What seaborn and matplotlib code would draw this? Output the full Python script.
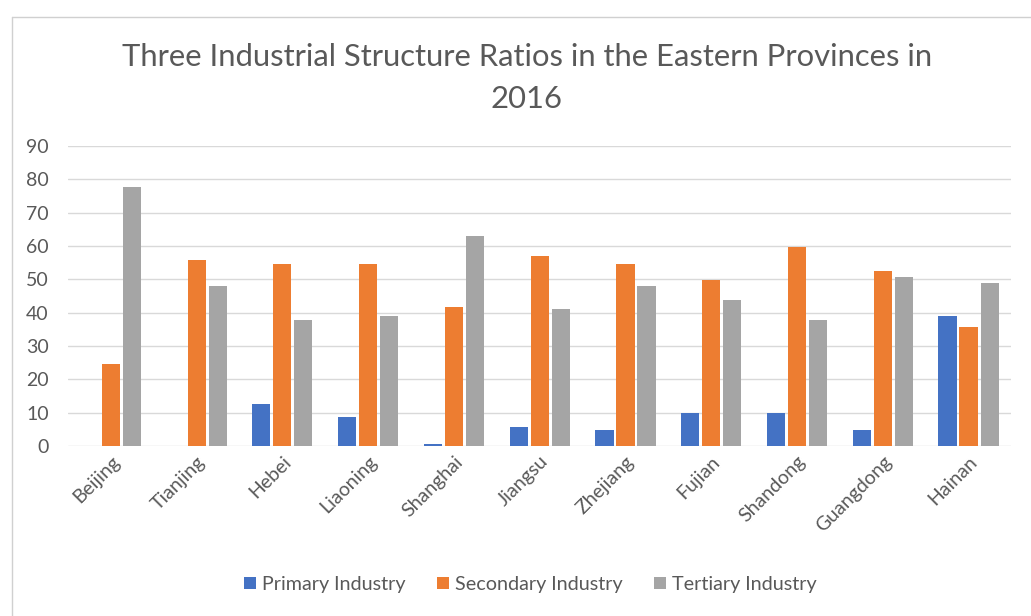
import matplotlib
matplotlib.use("Agg")
import matplotlib.pyplot as plt
from matplotlib.lines import Line2D
import seaborn as sns
import pandas as pd

provinces = ["Beijing", "Tianjing", "Hebei", "Liaoning", "Shanghai", "Jiangsu",
             "Zhejiang", "Fujian", "Shandong", "Guangdong", "Hainan"]
primary = [0, 0, 12.6, 8.8, 0.6, 5.7, 4.8, 9.9, 9.9, 4.8, 39.0]
secondary = [24.7, 55.8, 54.6, 54.6, 41.7, 57.0, 54.6, 49.9, 59.8, 52.6, 35.8]
tertiary = [77.8, 48.0, 37.8, 39.0, 62.9, 41.0, 48.0, 43.7, 37.8, 50.7, 48.8]
series_names = ["Primary Industry", "Secondary Industry", "Tertiary Industry"]
colors = ["#4472C4", "#ED7D31", "#A5A5A5"]
y_ticks = [0, 10, 20, 30, 40, 50, 60, 70, 80, 90]

rows = []
for name, vals in zip(series_names, [primary, secondary, tertiary]):
    for p, v in zip(provinces, vals):
        rows.append({"Province": p, "Industry": name, "Ratio": v})
df = pd.DataFrame(rows)

sns.set_theme(style="white")
plt.rcParams["font.family"] = ["Lato", "DejaVu Sans"]
text_color = "#595959"

fig = plt.figure(figsize=(10.31, 6.16), dpi=100)
ax = fig.add_axes([0.066, 0.276, 0.915, 0.487])

sns.barplot(data=df, x="Province", y="Ratio", hue="Industry",
            hue_order=series_names, palette=colors, order=provinces,
            width=0.735, gap=0.14, saturation=1, ax=ax, legend=True,
            linewidth=0)

ax.set_ylim(0, 90)
ax.set_yticks(y_ticks)
ax.set_xlim(-0.5, len(provinces) - 0.5)
ax.grid(axis="y", color="#D9D9D9", linewidth=1)
ax.set_axisbelow(True)
for s in ax.spines.values():
    s.set_visible(False)
ax.set_xlabel("")
ax.set_ylabel("")
ax.tick_params(axis="y", colors=text_color, labelsize=14, pad=14, length=0)
ax.tick_params(axis="x", colors=text_color, labelsize=14, pad=5, length=0)
plt.setp(ax.get_xticklabels(), rotation=45, ha="right", rotation_mode="anchor")

leg = ax.legend(loc="center", bbox_to_anchor=(0.49, -0.462), ncol=3,
                frameon=False, fontsize=14.2, handlelength=0.6,
                handleheight=0.6, handletextpad=0.3, columnspacing=1.6)
for t in leg.get_texts():
    t.set_color(text_color)

fig.text(0.511, 0.874, "Three Industrial Structure Ratios in the Eastern Provinces in\n2016",
         ha="center", va="center", fontsize=22.3, color=text_color, linespacing=1.6)

# thin chart frame along the top and left edges
fig.add_artist(Line2D([12 / 1031, 1.0], [1 - 17 / 616, 1 - 17 / 616],
                      transform=fig.transFigure, color="#D0D0D0", linewidth=1))
fig.add_artist(Line2D([12 / 1031, 12 / 1031], [0.0, 1 - 17 / 616],
                      transform=fig.transFigure, color="#D0D0D0", linewidth=1))

fig.savefig("out.png", dpi=100)
